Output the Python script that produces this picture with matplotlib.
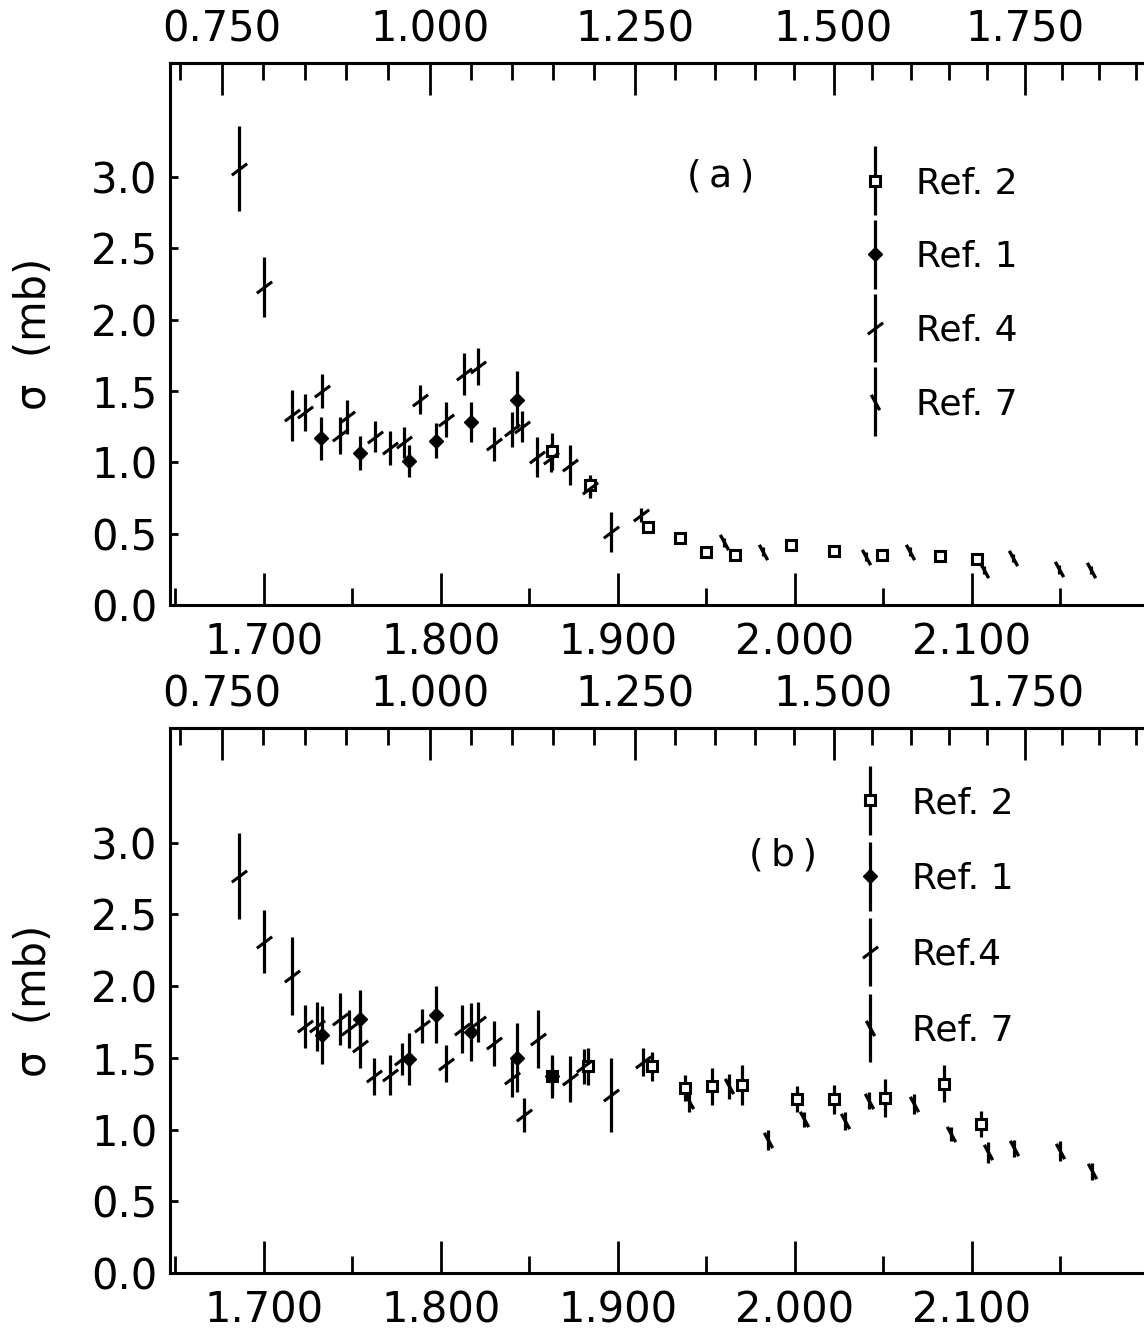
"""
K- p cross sections vs. W, two panels with lab momentum on top
"""

import numpy as np
import matplotlib
matplotlib.use('Agg')
import matplotlib.pyplot as plt
from matplotlib.path import Path
from matplotlib.ticker import MultipleLocator, FixedLocator, FormatStrFormatter
from matplotlib.legend_handler import HandlerErrorbar
from matplotlib.container import ErrorbarContainer

plt.rcParams['font.family'] = ['DejaVu Sans']

MK = 0.4937
MP = 0.9383

# ---- panel (a) ----
a_ref4_w = [1.686, 1.700, 1.716, 1.723, 1.733, 1.743, 1.747, 1.763, 1.771, 1.779, 1.788, 1.803,
            1.813, 1.821, 1.830, 1.840, 1.846, 1.854, 1.862, 1.873, 1.884, 1.896, 1.913]
a_ref4_s = [3.06, 2.23, 1.33, 1.35, 1.50, 1.19, 1.32, 1.18, 1.10, 1.14, 1.44, 1.30,
            1.62, 1.67, 1.13, 1.23, 1.25, 1.04, 1.03, 0.98, 0.82, 0.51, 0.63]
a_ref4_e = [0.30, 0.21, 0.18, 0.13, 0.12, 0.13, 0.12, 0.11, 0.12, 0.11, 0.10, 0.12,
            0.15, 0.13, 0.12, 0.12, 0.11, 0.14, 0.10, 0.14, 0.07, 0.14, 0.05]

a_ref1_w = [1.732, 1.754, 1.782, 1.797, 1.817, 1.843]
a_ref1_s = [1.17, 1.065, 1.01, 1.153, 1.28, 1.44]
a_ref1_e = [0.15, 0.12, 0.11, 0.12, 0.14, 0.20]

a_ref2_w = [1.863, 1.884, 1.917, 1.935, 1.950, 1.966, 1.998, 2.022, 2.049, 2.082, 2.103]
a_ref2_s = [1.077, 0.84, 0.55, 0.47, 0.375, 0.35, 0.42, 0.38, 0.35, 0.345, 0.32]
a_ref2_e = [0.13, 0.07, 0.04, 0.03, 0.03, 0.03, 0.03, 0.03, 0.03, 0.03, 0.03]

a_ref7_w = [1.960, 1.982, 2.040, 2.065, 2.107, 2.123, 2.149, 2.167]
a_ref7_s = [0.44, 0.375, 0.34, 0.375, 0.245, 0.33, 0.25, 0.245]
a_ref7_e = [0.03, 0.03, 0.03, 0.03, 0.03, 0.03, 0.03, 0.03]

# ---- panel (b) ----
b_ref4_w = [1.686, 1.700, 1.716, 1.723, 1.730, 1.743, 1.748, 1.754, 1.762, 1.771, 1.778, 1.789,
            1.803, 1.812, 1.821, 1.830, 1.840, 1.847, 1.855, 1.873, 1.881, 1.896, 1.914]
b_ref4_s = [2.77, 2.31, 2.07, 1.72, 1.72, 1.77, 1.70, 1.58, 1.37, 1.38, 1.49, 1.72,
            1.46, 1.70, 1.75, 1.60, 1.36, 1.10, 1.63, 1.35, 1.44, 1.24, 1.47]
b_ref4_e = [0.30, 0.22, 0.27, 0.15, 0.17, 0.18, 0.13, 0.15, 0.13, 0.14, 0.11, 0.12,
            0.13, 0.17, 0.14, 0.16, 0.13, 0.12, 0.20, 0.16, 0.12, 0.26, 0.10]

b_ref1_w = [1.733, 1.754, 1.782, 1.797, 1.817, 1.843, 1.863]
b_ref1_s = [1.66, 1.77, 1.49, 1.80, 1.68, 1.50, 1.37]
b_ref1_e = [0.20, 0.20, 0.18, 0.20, 0.20, 0.24, 0.15]

b_ref2_w = [1.863, 1.883, 1.919, 1.938, 1.953, 1.970, 2.001, 2.022, 2.051, 2.084, 2.105]
b_ref2_s = [1.37, 1.44, 1.44, 1.29, 1.30, 1.31, 1.21, 1.21, 1.22, 1.32, 1.04]
b_ref2_e = [0.12, 0.13, 0.10, 0.09, 0.13, 0.14, 0.09, 0.10, 0.13, 0.13, 0.09]

b_ref7_w = [1.940, 1.963, 1.985, 2.005, 2.028, 2.042, 2.067, 2.088, 2.109, 2.124, 2.150, 2.168]
b_ref7_s = [1.20, 1.30, 0.93, 1.07, 1.06, 1.20, 1.18, 0.97, 0.84, 0.87, 0.85, 0.71]
b_ref7_e = [0.08, 0.09, 0.07, 0.05, 0.06, 0.06, 0.07, 0.05, 0.07, 0.06, 0.07, 0.06]

w_ticks = [1.70, 1.80, 1.90, 2.00, 2.10]
p_ticks = [0.75, 1.00, 1.25, 1.50, 1.75]
s_ticks = [0.0, 0.5, 1.0, 1.5, 2.0, 2.5, 3.0]

tick4 = Path([(-1, -0.75), (1, 0.75)], [Path.MOVETO, Path.LINETO])
tick7 = Path([(-0.55, 1), (0.55, -1)], [Path.MOVETO, Path.LINETO])


def w_to_p(w):
    w = np.asarray(w, dtype=float)
    e = (w**2 - MK**2 - MP**2) / (2 * MP)
    return np.sqrt(np.clip(e**2 - MK**2, 0, None))


def p_to_w(p):
    p = np.asarray(p, dtype=float)
    return np.sqrt(MK**2 + MP**2 + 2 * MP * np.sqrt(p**2 + MK**2))


def draw_panel(ax, series, tag, tag_xy, legend_labels, legend_anchor, spacing):
    styles = [
        dict(marker='s', ms=7, mfc='white', mew=2.2),
        dict(marker='D', ms=7.5, mfc='black', mew=1.0),
        dict(marker=tick4, ms=11, mfc='none', mew=2.2),
        dict(marker=tick7, ms=11, mfc='none', mew=2.4),
    ]
    handles = []
    for (w, s, e), st in zip(series, styles):
        h = ax.errorbar(w, s, yerr=e, fmt='', marker=st['marker'], linestyle='none',
                        color='black', ecolor='black', elinewidth=2.3, capsize=0,
                        ms=st['ms'], mfc=st['mfc'], mec='black', mew=st['mew'], zorder=3)
        handles.append(h)

    ax.set_xlim(1.6469, 2.2288)
    ax.set_ylim(0, 3.8)

    ax.xaxis.set_major_locator(FixedLocator(w_ticks))
    ax.xaxis.set_major_formatter(FormatStrFormatter('%.3f'))
    ax.xaxis.set_minor_locator(MultipleLocator(0.05))
    ax.yaxis.set_major_locator(FixedLocator(s_ticks))
    ax.yaxis.set_major_formatter(FormatStrFormatter('%.1f'))
    ax.tick_params(axis='x', which='major', direction='in', length=23, width=2,
                   labelsize=30, pad=12, top=False)
    ax.tick_params(axis='x', which='minor', direction='in', length=12, width=2, top=False)
    ax.tick_params(axis='y', which='major', direction='in', length=6, width=2,
                   labelsize=30, pad=9, right=False)
    for sp in ax.spines.values():
        sp.set_linewidth(2.2)
    ax.spines['right'].set_visible(False)

    sec = ax.secondary_xaxis('top', functions=(w_to_p, p_to_w))
    sec.xaxis.set_major_locator(FixedLocator(p_ticks))
    sec.xaxis.set_major_formatter(FormatStrFormatter('%.3f'))
    sec.xaxis.set_minor_locator(MultipleLocator(0.05))
    sec.tick_params(which='major', direction='in', length=23, width=2, labelsize=30, pad=9)
    sec.tick_params(which='minor', direction='in', length=12, width=2)
    sec.spines['top'].set_linewidth(2.2)

    ax.set_ylabel('σ  (mb)', fontsize=30, labelpad=26)

    ax.text(tag_xy[0], tag_xy[1], tag, transform=ax.transAxes, fontsize=27,
            ha='center', va='center')

    leg = ax.legend(handles, legend_labels, loc='upper left', bbox_to_anchor=legend_anchor,
                    bbox_transform=ax.figure.transFigure, frameon=False, fontsize=26,
                    handlelength=0.6, handletextpad=0.85, labelspacing=spacing, borderpad=0,
                    borderaxespad=0, numpoints=1,
                    handler_map={ErrorbarContainer: HandlerErrorbar(yerr_size=0.95)})
    return leg


if __name__ == '__main__':
    fig = plt.figure(figsize=(11.44, 13.3), dpi=100)

    ax_a = fig.add_axes([0.1486, 0.5451, 0.9003, 0.4075])
    ax_b = fig.add_axes([0.1486, 0.0429, 0.9003, 0.4098])

    series_a = [(a_ref2_w, a_ref2_s, a_ref2_e), (a_ref1_w, a_ref1_s, a_ref1_e),
                (a_ref4_w, a_ref4_s, a_ref4_e), (a_ref7_w, a_ref7_s, a_ref7_e)]
    series_b = [(b_ref2_w, b_ref2_s, b_ref2_e), (b_ref1_w, b_ref1_s, b_ref1_e),
                (b_ref4_w, b_ref4_s, b_ref4_e), (b_ref7_w, b_ref7_s, b_ref7_e)]

    draw_panel(ax_a, series_a, '(\u2009a\u2009)', (0.535, 0.79),
               ['Ref. 2', 'Ref. 1', 'Ref. 4', 'Ref. 7'], (0.755, 0.875), 1.10)
    draw_panel(ax_b, series_b, '(\u2009b\u2009)', (0.595, 0.765),
               ['Ref. 2', 'Ref. 1', 'Ref.4', 'Ref. 7'], (0.751, 0.409), 1.16)

    fig.savefig('out.png', dpi=100)
